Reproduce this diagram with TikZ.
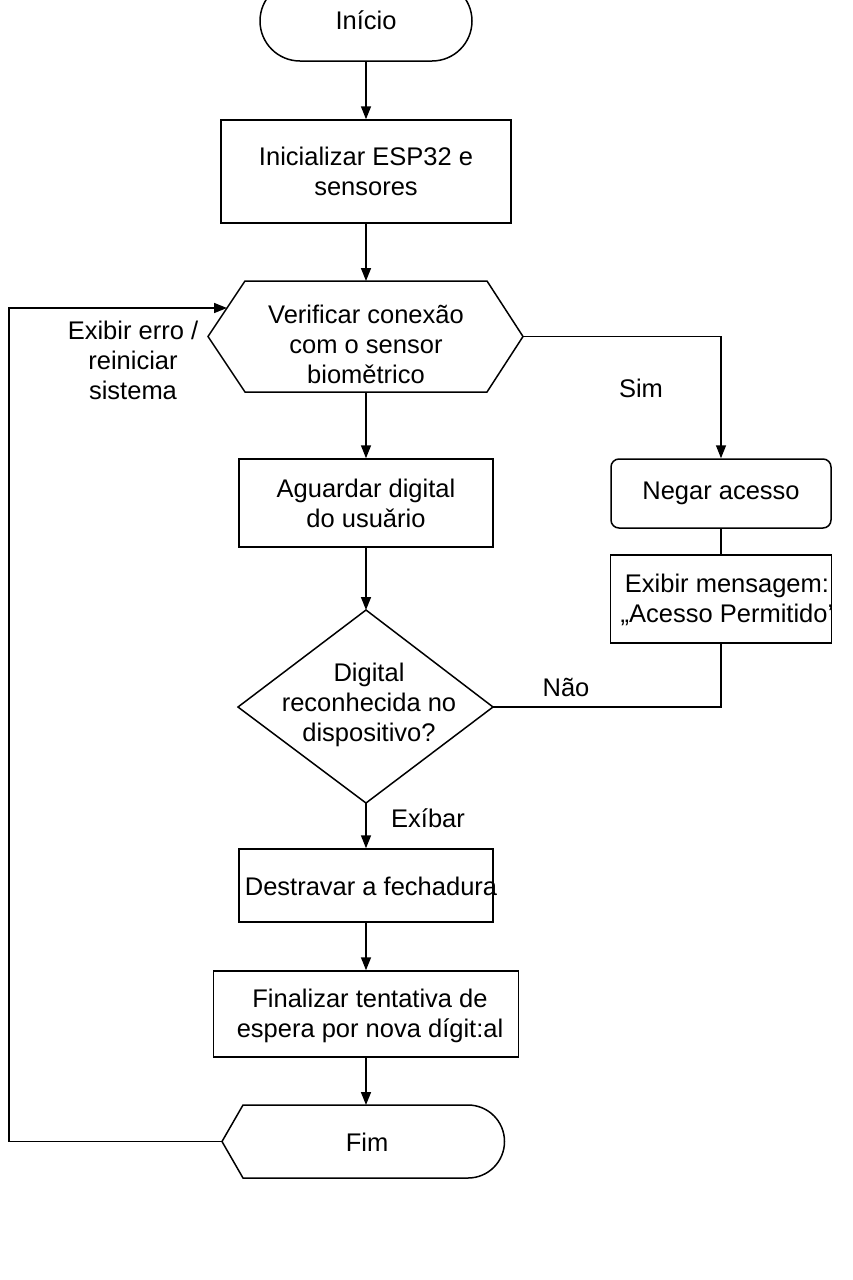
\documentclass[tikz,border=0pt]{standalone}
\usepackage{fontspec}
\setmainfont{Liberation Sans}
\usetikzlibrary{arrows.meta}
\begin{document}
\begin{tikzpicture}[x=1pt,y=-1pt,
  every node/.style={font=\fontsize{25.5}{30}\selectfont, align=center, inner sep=0pt},
  boxproc/.style={draw, line width=1.5pt, rectangle},
  lineshape/.style={draw, line width=1.5pt, line join=miter},
  conn/.style={line width=1.5pt},
  arr/.style={conn, -{Triangle[width=10pt,length=13pt]}}
]
\useasboundingbox[fill=white] (0,0) rectangle (853,1280);

% Inicio
\node[boxproc, rounded corners=40pt, minimum width=212pt, minimum height=80pt] (inicio) at (366,21) {};
\node (iniciotxt) at (366,20) {Início};

% Inicializar
\node[boxproc, minimum width=290pt, minimum height=103pt] (init) at (366,171.5) {Inicializar ESP32 e\\sensores};

% Hexagon
\coordinate (hN) at (366,281);
\coordinate (hS) at (366,392);
\coordinate (hW) at (208,336.5);
\coordinate (hE) at (523,336.5);
\coordinate (hIn) at (227,308);
\draw[lineshape] (hW) -- (245,281) -- (487,281) -- (hE) -- (487,392) -- (245,392) -- cycle;
\node (verif) at (366,344) {Verificar conexão\\com o sensor\\biomětrico};

% Aguardar
\node[boxproc, minimum width=254pt, minimum height=88pt] (aguardar) at (366,503) {Aguardar digital\\do usuǎrio};

% Diamond
\coordinate (dN) at (366,610);
\coordinate (dS) at (366,803);
\coordinate (dW) at (238,707);
\coordinate (dE) at (493,707);
\draw[lineshape] (dN) -- (dE) -- (dS) -- (dW) -- cycle;
\node (digital) at (369,705) {Digital\\reconhecida no\\dispositivo?};

% Destravar
\node[boxproc, minimum width=254pt, minimum height=73pt] (destravar) at (366,885.5) {};
\node (destravartxt) at (371,886) {Destravar a fechadura};

% Finalizar
\node[boxproc, minimum width=305pt, minimum height=86pt] (finalizar) at (366,1014) {};
\node (finalizartxt) at (370,1016) {Finalizar tentativa de\\espera por nova dígit:al};

% Fim
\coordinate (fimW) at (222,1141.5);
\coordinate (fimN) at (366,1105);
\draw[lineshape] (fimW) -- (243,1105) -- (468,1105) arc[start angle=90, end angle=-90, radius=36.5pt] -- (243,1178) -- cycle;
\node (fim) at (367,1142) {Fim};

% Right branch
\node[boxproc, rounded corners=8pt, minimum width=220pt, minimum height=69pt] (negar) at (721,493.5) {Negar acesso};
\node[boxproc, minimum width=221pt, minimum height=88pt] (exibir) at (721,599) {};
\node (exibirtxt) at (727,600) {Exibir mensagem:\\„Acesso Permitido’};

% Labels
\node (sim) at (641,388) {Sim};
\node (nao) at (566,687) {Não};
\node (exibar) at (428,818) {Exíbar};
\node (erro) at (133,360) {Exibir erro /\\reiniciar\\sistema};

% Connectors
\draw[arr] (inicio.south) -- (init.north);
\draw[arr] (init.south) -- (hN);
\draw[arr] (hS) -- (aguardar.north);
\draw[arr] (aguardar.south) -- (dN);
\draw[arr] (dS) -- (destravar.north);
\draw[arr] (destravar.south) -- (finalizar.north);
\draw[arr] (finalizar.south) -- (fimN);
\draw[arr] (hE) -| (negar.north);
\draw[conn] (negar.south) -- (exibir.north);
\draw[conn] (exibir.south) |- (dE);
\coordinate (loopL) at (9,308);
\draw[arr] (fimW) -| (loopL) -- (hIn);
\end{tikzpicture}
\end{document}
